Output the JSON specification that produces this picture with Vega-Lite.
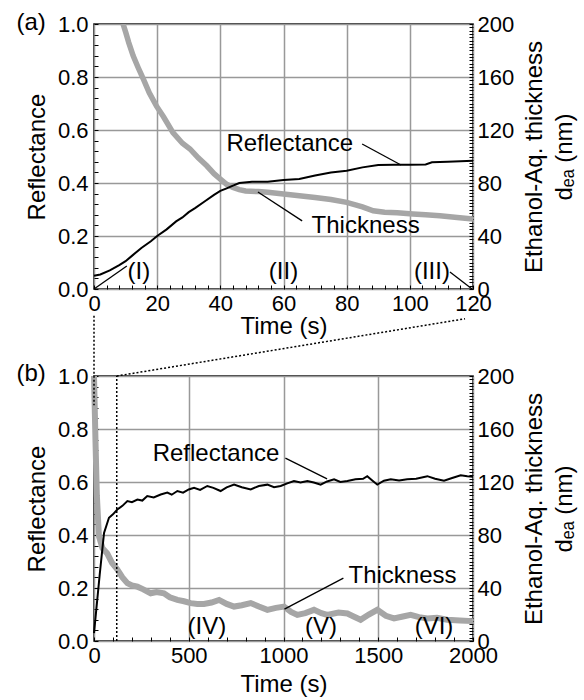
{
  "$schema": "https://vega.github.io/schema/vega-lite/v6.json",
  "background": "white",
  "padding": {"left": 15, "top": 10, "right": 0, "bottom": 0},
  "bounds": "flush",
  "spacing": 87,
  "config": {
    "view": {"stroke": "black", "strokeWidth": 1.5},
    "font": "Liberation Sans",
    "axis": {
      "domain": false,
      "tickSize": 4,
      "tickColor": "black",
      "tickWidth": 1,
      "labelFont": "Liberation Sans",
      "labelFontSize": 22,
      "labelColor": "black",
      "titleFont": "Liberation Sans",
      "titleFontSize": 24,
      "titleFontWeight": "normal",
      "titleColor": "black",
      "gridColor": "#999999",
      "gridWidth": 1.5,
      "labelOverlap": false,
      "labelFlush": false,
      "labelBound": false
    }
  },
  "datasets": {
    "reflA": [
      {"t": 0, "R": 0.05}, {"t": 2, "R": 0.055}, {"t": 5, "R": 0.07}, {"t": 8, "R": 0.09},
      {"t": 10, "R": 0.105}, {"t": 12, "R": 0.125}, {"t": 15, "R": 0.155}, {"t": 18, "R": 0.18},
      {"t": 20, "R": 0.2}, {"t": 23, "R": 0.225}, {"t": 26, "R": 0.255}, {"t": 28, "R": 0.27},
      {"t": 30, "R": 0.29}, {"t": 32, "R": 0.305}, {"t": 35, "R": 0.33}, {"t": 38, "R": 0.355},
      {"t": 40, "R": 0.37}, {"t": 42, "R": 0.38}, {"t": 44, "R": 0.39}, {"t": 46, "R": 0.4},
      {"t": 50, "R": 0.405}, {"t": 55, "R": 0.405}, {"t": 60, "R": 0.411}, {"t": 65, "R": 0.415},
      {"t": 70, "R": 0.428}, {"t": 75, "R": 0.44}, {"t": 80, "R": 0.446}, {"t": 85, "R": 0.459},
      {"t": 90, "R": 0.468}, {"t": 95, "R": 0.469}, {"t": 100, "R": 0.469}, {"t": 105, "R": 0.47},
      {"t": 107, "R": 0.478}, {"t": 112, "R": 0.48}, {"t": 120, "R": 0.484}
    ],
    "thickA": [
      {"t": 9.2, "d": 200}, {"t": 10, "d": 194}, {"t": 11, "d": 186}, {"t": 12.4, "d": 176},
      {"t": 14, "d": 167}, {"t": 15.6, "d": 158.5}, {"t": 17.5, "d": 148}, {"t": 19.8, "d": 138},
      {"t": 22, "d": 130}, {"t": 25, "d": 118}, {"t": 28, "d": 110}, {"t": 30.4, "d": 105.7},
      {"t": 33, "d": 99}, {"t": 35.7, "d": 93}, {"t": 38, "d": 87}, {"t": 40, "d": 83},
      {"t": 42, "d": 79}, {"t": 44, "d": 76.7}, {"t": 46, "d": 75}, {"t": 48, "d": 74},
      {"t": 52, "d": 73.5}, {"t": 55, "d": 73}, {"t": 60, "d": 71.7}, {"t": 65, "d": 70.4},
      {"t": 70, "d": 69}, {"t": 75, "d": 67.5}, {"t": 80, "d": 65.4}, {"t": 85, "d": 62},
      {"t": 88.4, "d": 59}, {"t": 92, "d": 58}, {"t": 96, "d": 57.5}, {"t": 101, "d": 56.6},
      {"t": 105, "d": 56}, {"t": 109.5, "d": 55.3}, {"t": 115, "d": 54}, {"t": 120, "d": 52.8}
    ],
    "leadA": [
      {"t": 84.9, "R": 0.547, "t2": 97.2, "R2": 0.468},
      {"t": 65.9, "R": 0.257, "t2": 51.9, "R2": 0.366},
      {"t": 0, "R": 0, "t2": 10.4, "R2": 0.087},
      {"t": 112.7, "R": 0.064, "t2": 119.7, "R2": 0.0}
    ],
    "textA": [
      {"t": 62, "R": 0.547, "label": "Reflectance"},
      {"t": 86, "R": 0.238, "label": "Thickness"},
      {"t": 14.2, "R": 0.064, "label": "(I)"},
      {"t": 60, "R": 0.064, "label": "(II)"},
      {"t": 107, "R": 0.064, "label": "(III)"},
      {"t": -19.9, "R": 1.004, "label": "(a)"}
    ],
    "reflB": [
      {"t": 0, "R": 0.03}, {"t": 30, "R": 0.25}, {"t": 53, "R": 0.408}, {"t": 79, "R": 0.465},
      {"t": 100, "R": 0.478}, {"t": 123, "R": 0.496}, {"t": 150, "R": 0.51}, {"t": 176, "R": 0.528},
      {"t": 200, "R": 0.524}, {"t": 229, "R": 0.534}, {"t": 255, "R": 0.53}, {"t": 281, "R": 0.547},
      {"t": 315, "R": 0.542}, {"t": 352, "R": 0.553}, {"t": 387, "R": 0.56}, {"t": 410, "R": 0.552},
      {"t": 440, "R": 0.566}, {"t": 470, "R": 0.56}, {"t": 500, "R": 0.572}, {"t": 528, "R": 0.578},
      {"t": 560, "R": 0.57}, {"t": 598, "R": 0.585}, {"t": 630, "R": 0.578}, {"t": 668, "R": 0.566},
      {"t": 700, "R": 0.58}, {"t": 739, "R": 0.59}, {"t": 780, "R": 0.58}, {"t": 827, "R": 0.572},
      {"t": 870, "R": 0.585}, {"t": 915, "R": 0.59}, {"t": 950, "R": 0.58}, {"t": 985, "R": 0.585},
      {"t": 1020, "R": 0.595}, {"t": 1055, "R": 0.604}, {"t": 1090, "R": 0.598}, {"t": 1126, "R": 0.604},
      {"t": 1160, "R": 0.598}, {"t": 1196, "R": 0.59}, {"t": 1230, "R": 0.602}, {"t": 1267, "R": 0.61},
      {"t": 1300, "R": 0.6}, {"t": 1337, "R": 0.604}, {"t": 1380, "R": 0.61}, {"t": 1420, "R": 0.612},
      {"t": 1442, "R": 0.622}, {"t": 1470, "R": 0.605}, {"t": 1495, "R": 0.59}, {"t": 1530, "R": 0.605},
      {"t": 1566, "R": 0.61}, {"t": 1610, "R": 0.606}, {"t": 1653, "R": 0.61}, {"t": 1700, "R": 0.612},
      {"t": 1759, "R": 0.622}, {"t": 1800, "R": 0.612}, {"t": 1847, "R": 0.605}, {"t": 1890, "R": 0.615},
      {"t": 1935, "R": 0.625}, {"t": 1970, "R": 0.622}, {"t": 2000, "R": 0.62}
    ],
    "thickB": [
      {"t": 0, "d": 200}, {"t": 8, "d": 150}, {"t": 15, "d": 110}, {"t": 26, "d": 79},
      {"t": 45, "d": 70}, {"t": 70, "d": 66}, {"t": 95, "d": 59}, {"t": 123, "d": 54},
      {"t": 150, "d": 48}, {"t": 176, "d": 43.7}, {"t": 200, "d": 42}, {"t": 229, "d": 41},
      {"t": 260, "d": 39}, {"t": 299, "d": 36}, {"t": 330, "d": 37}, {"t": 369, "d": 36},
      {"t": 400, "d": 33}, {"t": 440, "d": 31}, {"t": 475, "d": 30}, {"t": 510, "d": 28.6},
      {"t": 545, "d": 28}, {"t": 580, "d": 28}, {"t": 620, "d": 29}, {"t": 660, "d": 31},
      {"t": 700, "d": 28}, {"t": 739, "d": 26}, {"t": 780, "d": 27}, {"t": 827, "d": 28.6},
      {"t": 870, "d": 26}, {"t": 915, "d": 23.5}, {"t": 960, "d": 25}, {"t": 1003, "d": 26},
      {"t": 1040, "d": 22}, {"t": 1073, "d": 19.7}, {"t": 1115, "d": 21}, {"t": 1161, "d": 23.5},
      {"t": 1200, "d": 21}, {"t": 1231, "d": 19.7}, {"t": 1290, "d": 21.5}, {"t": 1337, "d": 20.8},
      {"t": 1370, "d": 18.5}, {"t": 1407, "d": 16}, {"t": 1450, "d": 20}, {"t": 1495, "d": 23.5},
      {"t": 1540, "d": 19}, {"t": 1583, "d": 17}, {"t": 1630, "d": 18.5}, {"t": 1671, "d": 19.7},
      {"t": 1715, "d": 18}, {"t": 1759, "d": 17}, {"t": 1810, "d": 17.5}, {"t": 1864, "d": 16},
      {"t": 1930, "d": 15.5}, {"t": 2000, "d": 15}
    ],
    "leadB": [
      {"t": 1010, "R": 0.69, "t2": 1230, "R2": 0.612},
      {"t": 1316, "R": 0.237, "t2": 1005, "R2": 0.12}
    ],
    "dotB": [
      {"t": 0, "R": 1.227, "t2": 0, "R2": 0.89},
      {"t": 120, "R": 0, "t2": 120, "R2": 1.0},
      {"t": 120, "R": 1.0, "t2": 1958, "R2": 1.216}
    ],
    "textB": [
      {"t": 644, "R": 0.705, "label": "Reflectance"},
      {"t": 1628, "R": 0.246, "label": "Thickness"},
      {"t": 596, "R": 0.053, "label": "(IV)"},
      {"t": 1198, "R": 0.053, "label": "(V)"},
      {"t": 1794, "R": 0.053, "label": "(VI)"},
      {"t": -332, "R": 1.007, "label": "(b)"}
    ]
  },
  "vconcat": [
    {
      "width": 379,
      "height": 265,
      "resolve": {"scale": {"x": "independent", "y": "independent"}, "axis": {"x": "independent", "y": "independent"}},
      "layer": [
        {
          "data": {"name": "thickA"},
          "mark": {"type": "line", "color": "#a6a6a6", "strokeWidth": 5.5, "clip": true},
          "encoding": {
            "x": {"field": "t", "type": "quantitative", "scale": {"domain": [0, 120], "nice": false},
              "axis": {"orient": "bottom", "values": [0,4,8,12,16,20,24,28,32,36,40,44,48,52,56,60,64,68,72,76,80,84,88,92,96,100,104,108,112,116,120],
                "labels": false, "grid": false, "ticks": true, "tickSize": 4, "offset": -4, "title": null}},
            "y": {"field": "d", "type": "quantitative", "scale": {"domain": [0, 200], "nice": false},
              "axis": {"orient": "right", "grid": false, "ticks": true, "tickSize": 4, "offset": -4,
                "values": [0,2.5,5,7.5,10,12.5,15,17.5,20,22.5,25,27.5,30,32.5,35,37.5,40,42.5,45,47.5,50,52.5,55,57.5,60,62.5,65,67.5,70,72.5,75,77.5,80,82.5,85,87.5,90,92.5,95,97.5,100,102.5,105,107.5,110,112.5,115,117.5,120,122.5,125,127.5,130,132.5,135,137.5,140,142.5,145,147.5,150,152.5,155,157.5,160,162.5,165,167.5,170,172.5,175,177.5,180,182.5,185,187.5,190,192.5,195,197.5,200],
                "labelExpr": "datum.value % 40 === 0 ? datum.label : ''",
                "labelPadding": 4,
                "title": ["Ethanol-Aq. thickness", "dₑₐ  (nm)"],
                "titleAngle": 270,
                "titlePadding": 3,
                "titleLineHeight": 30}}
          }
        },
        {
          "data": {"name": "reflA"},
          "mark": {"type": "line", "color": "black", "strokeWidth": 2},
          "encoding": {
            "x": {"field": "t", "type": "quantitative", "scale": {"domain": [0, 120], "nice": false},
              "axis": {"orient": "bottom", "title": "Time (s)", "values": [0, 20, 40, 60, 80, 100, 120],
                "grid": true, "ticks": false, "labelPadding": 4, "titlePadding": 0}},
            "y": {"field": "R", "type": "quantitative", "scale": {"domain": [0, 1], "nice": false},
              "axis": {"orient": "left", "title": "Reflectance", "values": [0, 0.2, 0.4, 0.6, 0.8, 1],
                "format": ".1f", "grid": true, "ticks": false, "labelPadding": 6, "titlePadding": 8}}
          }
        },
        {
          "data": {"name": "leadA"},
          "mark": {"type": "rule", "color": "black", "strokeWidth": 1.3},
          "encoding": {
            "x": {"field": "t", "type": "quantitative", "scale": {"domain": [0, 120], "nice": false}, "axis": null},
            "x2": {"field": "t2"},
            "y": {"field": "R", "type": "quantitative", "scale": {"domain": [0, 1], "nice": false},
              "axis": {"orient": "left", "values": [0,0.04,0.08,0.12,0.16,0.2,0.24,0.28,0.32,0.36,0.4,0.44,0.48,0.52,0.56,0.6,0.64,0.68,0.72,0.76,0.8,0.84,0.88,0.92,0.96,1],
                "labels": false, "grid": false, "ticks": true, "tickSize": 4, "offset": -4, "title": null}},
            "y2": {"field": "R2"}
          }
        },
        {
          "data": {"name": "textA"},
          "mark": {"type": "text", "font": "Liberation Sans", "fontSize": 24, "color": "black", "align": "center", "baseline": "middle"},
          "encoding": {
            "x": {"field": "t", "type": "quantitative", "scale": {"domain": [0, 120], "nice": false}, "axis": null},
            "y": {"field": "R", "type": "quantitative", "scale": {"domain": [0, 1], "nice": false}, "axis": null},
            "text": {"field": "label"}
          }
        }
      ]
    },
    {
      "width": 379,
      "height": 265,
      "resolve": {"scale": {"x": "independent", "y": "independent"}, "axis": {"x": "independent", "y": "independent"}},
      "layer": [
        {
          "data": {"name": "thickB"},
          "mark": {"type": "line", "color": "#a6a6a6", "strokeWidth": 6},
          "encoding": {
            "x": {"field": "t", "type": "quantitative", "scale": {"domain": [0, 2000], "nice": false},
              "axis": {"orient": "bottom", "values": [0,100,200,300,400,500,600,700,800,900,1000,1100,1200,1300,1400,1500,1600,1700,1800,1900,2000],
                "labels": false, "grid": false, "ticks": true, "tickSize": 4, "offset": -4, "title": null}},
            "y": {"field": "d", "type": "quantitative", "scale": {"domain": [0, 200], "nice": false},
              "axis": {"orient": "right", "grid": false, "ticks": true, "tickSize": 4, "offset": -4,
                "values": [0,2.5,5,7.5,10,12.5,15,17.5,20,22.5,25,27.5,30,32.5,35,37.5,40,42.5,45,47.5,50,52.5,55,57.5,60,62.5,65,67.5,70,72.5,75,77.5,80,82.5,85,87.5,90,92.5,95,97.5,100,102.5,105,107.5,110,112.5,115,117.5,120,122.5,125,127.5,130,132.5,135,137.5,140,142.5,145,147.5,150,152.5,155,157.5,160,162.5,165,167.5,170,172.5,175,177.5,180,182.5,185,187.5,190,192.5,195,197.5,200],
                "labelExpr": "datum.value % 40 === 0 ? datum.label : ''",
                "labelPadding": 4,
                "title": ["Ethanol-Aq. thickness", "dₑₐ  (nm)"],
                "titleAngle": 270,
                "titlePadding": 3,
                "titleLineHeight": 30}}
          }
        },
        {
          "data": {"name": "reflB"},
          "mark": {"type": "line", "color": "black", "strokeWidth": 2},
          "encoding": {
            "x": {"field": "t", "type": "quantitative", "scale": {"domain": [0, 2000], "nice": false},
              "axis": {"orient": "bottom", "title": "Time (s)", "values": [0, 500, 1000, 1500, 2000], "format": "d",
                "grid": true, "ticks": false, "labelPadding": 4, "titlePadding": 6}},
            "y": {"field": "R", "type": "quantitative", "scale": {"domain": [0, 1], "nice": false},
              "axis": {"orient": "left", "title": "Reflectance", "values": [0, 0.2, 0.4, 0.6, 0.8, 1],
                "format": ".1f", "grid": true, "ticks": false, "labelPadding": 6, "titlePadding": 8}}
          }
        },
        {
          "data": {"name": "leadB"},
          "mark": {"type": "rule", "color": "black", "strokeWidth": 1.3},
          "encoding": {
            "x": {"field": "t", "type": "quantitative", "scale": {"domain": [0, 2000], "nice": false}, "axis": null},
            "x2": {"field": "t2"},
            "y": {"field": "R", "type": "quantitative", "scale": {"domain": [0, 1], "nice": false},
              "axis": {"orient": "left", "values": [0,0.04,0.08,0.12,0.16,0.2,0.24,0.28,0.32,0.36,0.4,0.44,0.48,0.52,0.56,0.6,0.64,0.68,0.72,0.76,0.8,0.84,0.88,0.92,0.96,1],
                "labels": false, "grid": false, "ticks": true, "tickSize": 4, "offset": -4, "title": null}},
            "y2": {"field": "R2"}
          }
        },
        {
          "data": {"name": "dotB"},
          "mark": {"type": "rule", "color": "black", "strokeWidth": 1.5, "strokeDash": [2, 2]},
          "encoding": {
            "x": {"field": "t", "type": "quantitative", "scale": {"domain": [0, 2000], "nice": false}, "axis": null},
            "x2": {"field": "t2"},
            "y": {"field": "R", "type": "quantitative", "scale": {"domain": [0, 1], "nice": false}, "axis": null},
            "y2": {"field": "R2"}
          }
        },
        {
          "data": {"name": "textB"},
          "mark": {"type": "text", "font": "Liberation Sans", "fontSize": 24, "color": "black", "align": "center", "baseline": "middle"},
          "encoding": {
            "x": {"field": "t", "type": "quantitative", "scale": {"domain": [0, 2000], "nice": false}, "axis": null},
            "y": {"field": "R", "type": "quantitative", "scale": {"domain": [0, 1], "nice": false}, "axis": null},
            "text": {"field": "label"}
          }
        }
      ]
    }
  ]
}
